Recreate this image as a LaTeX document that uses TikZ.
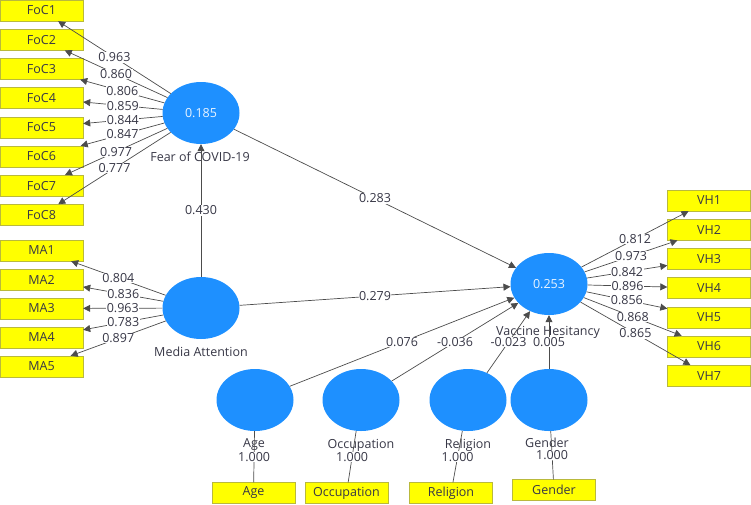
\documentclass[tikz,border=0pt]{standalone}
\usepackage{fontspec}
\setmainfont{Open Sans}
\usepackage{tikz}
\usetikzlibrary{shapes.geometric,arrows.meta}
\definecolor{plsblue}{RGB}{30,144,255}
\definecolor{itemyellow}{RGB}{255,255,0}
\definecolor{itemedge}{RGB}{185,185,60}
\definecolor{txtgray}{RGB}{55,55,70}

\begin{document}
\begin{tikzpicture}[x=1pt, y=-1pt, font=\fontsize{12.5}{12.5}\selectfont,
   lv/.style={ellipse, fill=plsblue, minimum width=77pt, minimum height=62pt, inner sep=0pt, text=white!90!plsblue},
   ind/.style={rectangle, fill=itemyellow, draw=itemedge, minimum width=83pt, minimum height=21pt, inner sep=0pt, text=txtgray},
   ldg/.style={draw=black!70, line width=0.7pt, -{Triangle[length=7pt,width=7pt]}},
   plain/.style={draw=black!70, line width=0.7pt},
   coef/.style={fill=white, inner sep=0.5pt, text=txtgray},
   cname/.style={inner sep=0pt, text=txtgray}]

   \useasboundingbox (0,0) rectangle (751,504);

   \node[lv] (FC) at (201,113) {0.185};
   \node[lv] (MA) at (201,308) {};
   \node[lv] (VH) at (549,284) {0.253};
   \node[lv] (AG) at (255,400) {};
   \node[lv] (OC) at (361,400) {};
   \node[lv] (RE) at (468,400) {};
   \node[lv] (GE) at (549,400) {};

   \node[cname] (FCn) at (200,157) {Fear of COVID-19};
   \node[cname] (MAn) at (201,352) {Media Attention};
   \node[cname] (VHn) at (548,332) {Vaccine Hesitancy};
   \node[cname] (AGn) at (254,445) {Age};
   \node[cname] (OCn) at (361,445) {Occupation};
   \node[cname] (REn) at (468,445) {Religion};
   \node[cname] (GEn) at (547,443) {Gender};

   \node[ind] (FoC1) at (41.5,10.5) {FoC1};
   \node[ind] (FoC2) at (41.5,39.7) {FoC2};
   \node[ind] (FoC3) at (41.5,68.9) {FoC3};
   \node[ind] (FoC4) at (41.5,98.1) {FoC4};
   \node[ind] (FoC5) at (41.5,127.3) {FoC5};
   \node[ind] (FoC6) at (41.5,156.5) {FoC6};
   \node[ind] (FoC7) at (41.5,185.7) {FoC7};
   \node[ind] (FoC8) at (41.5,214.9) {FoC8};

   \node[ind] (MA1) at (41.5,250.5) {MA1};
   \node[ind] (MA2) at (41.5,279.5) {MA2};
   \node[ind] (MA3) at (41.5,308.5) {MA3};
   \node[ind] (MA4) at (41.5,337.5) {MA4};
   \node[ind] (MA5) at (41.5,366.5) {MA5};

   \node[ind] (VH1) at (709,200.5) {VH1};
   \node[ind] (VH2) at (709,229.7) {VH2};
   \node[ind] (VH3) at (709,258.9) {VH3};
   \node[ind] (VH4) at (709,288.1) {VH4};
   \node[ind] (VH5) at (709,317.3) {VH5};
   \node[ind] (VH6) at (709,346.5) {VH6};
   \node[ind] (VH7) at (709,375.7) {VH7};

   \node[ind] (AGi) at (253.5,493) {Age};
   \node[ind] (OCi) at (346.5,493) {Occupation};
   \node[ind] (REi) at (451,493) {Religion};
   \node[ind] (GEi) at (554,490) {Gender};

   \draw[ldg] (FC) -- node[coef] {0.963} (FoC1);
   \draw[ldg] (FC) -- node[coef] {0.860} (FoC2);
   \draw[ldg] (FC) -- node[coef] {0.806} (FoC3);
   \draw[ldg] (FC) -- node[coef] {0.859} (FoC4);
   \draw[ldg] (FC) -- node[coef] {0.844} (FoC5);
   \draw[ldg] (FC) -- node[coef] {0.847} (FoC6);
   \draw[ldg] (FC) -- node[coef] {0.977} (FoC7);
   \draw[ldg] (FC) -- node[coef] {0.777} (FoC8);

   \draw[ldg] (MA) -- node[coef] {0.804} (MA1);
   \draw[ldg] (MA) -- node[coef] {0.836} (MA2);
   \draw[ldg] (MA) -- node[coef] {0.963} (MA3);
   \draw[ldg] (MA) -- node[coef] {0.783} (MA4);
   \draw[ldg] (MA) -- node[coef] {0.897} (MA5);

   \draw[ldg] (VH) -- node[coef] {0.812} (VH1);
   \draw[ldg] (VH) -- node[coef] {0.973} (VH2);
   \draw[ldg] (VH) -- node[coef] {0.842} (VH3);
   \draw[ldg] (VH) -- node[coef] {0.896} (VH4);
   \draw[ldg] (VH) -- node[coef] {0.856} (VH5);
   \draw[ldg] (VH) -- node[coef] {0.868} (VH6);
   \draw[ldg] (VH) -- node[coef] {0.865} (VH7);

   \draw[plain] (AG) -- node[coef] {1.000} (AGi);
   \draw[plain] (OC) -- node[coef] {1.000} (OCi);
   \draw[plain] (RE) -- node[coef] {1.000} (REi);
   \draw[plain] (GE) -- node[coef] {1.000} (GEi);

   \draw[ldg] (MA) -- node[coef] {0.430} (FC);
   \draw[ldg] (FC) -- node[coef] {0.283} (VH);
   \draw[ldg] (MA) -- node[coef] {0.279} (VH);
   \draw[ldg] (AG) -- node[coef] {0.076} (VH);
   \draw[ldg] (OC) -- node[coef] {-0.036} (VH);
   \draw[ldg] (RE) -- node[coef] {-0.023} (VH);
   \draw[ldg] (GE) -- node[coef] {0.005} (VH);

\end{tikzpicture}
\end{document}
